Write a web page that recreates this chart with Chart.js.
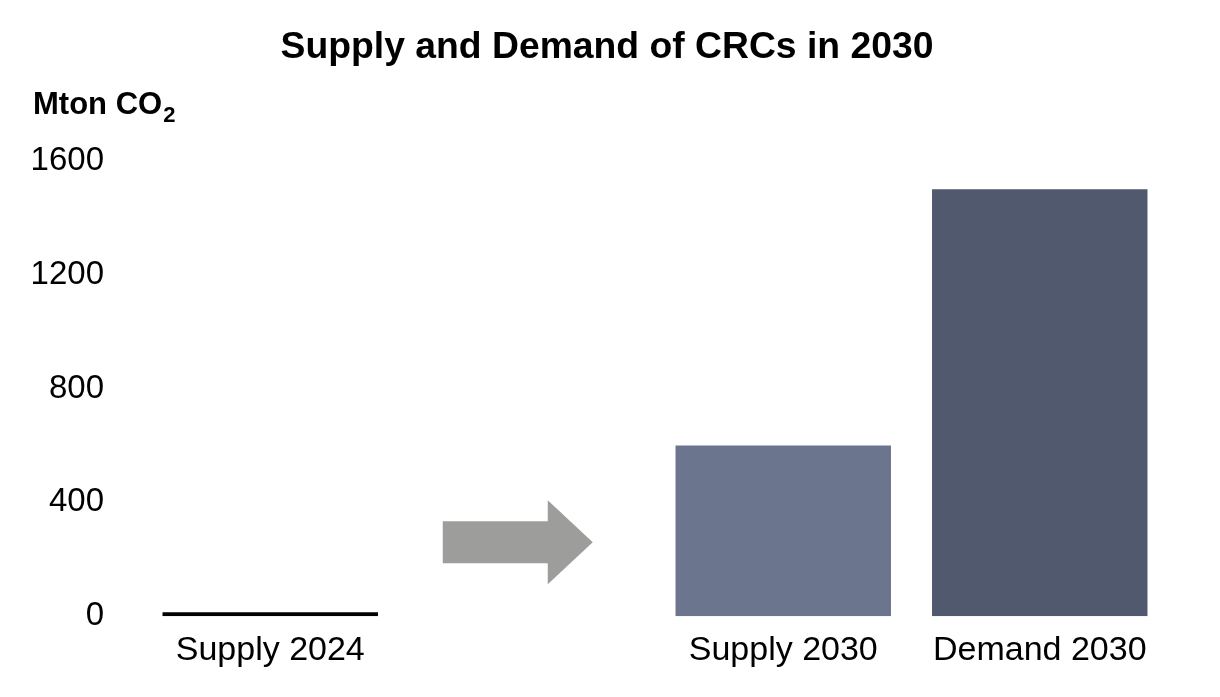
<!DOCTYPE html>
<html>
<head>
<meta charset="utf-8">
<script src="https://cdn.jsdelivr.net/npm/chart.js@4"></script>
<style>
  html, body { margin: 0; padding: 0; background: #fff; }
  #wrap { width: 1220px; height: 697px; }
</style>
</head>
<body>
<div id="wrap"><canvas id="crc-canvas" width="1220" height="697"></canvas></div>
<script>
// Supply and demand of carbon removal credits
const categories = ['Supply 2024', '', 'Supply 2030', 'Demand 2030'];
const volumes = [14, null, 600, 1500];
const barColors = ['#000000', 'transparent', '#6b768e', '#51596f'];
const yTicks = [0, 400, 800, 1200, 1600];

// arrow sits in the empty category, centred on this value
const arrowCategory = 1;
const arrowValue = 260;

Chart.defaults.font.family = "'Liberation Sans', Arial, sans-serif";
Chart.defaults.color = '#000';

// unit label "Mton CO2" with a subscript 2
const unitLabel = {
  id: 'unitLabel',
  afterDraw(chart) {
    const ctx = chart.ctx;
    ctx.save();
    ctx.fillStyle = '#000';
    ctx.textBaseline = 'alphabetic';
    ctx.font = "bold 31px 'Liberation Sans', Arial, sans-serif";
    const base = 'Mton CO';
    ctx.fillText(base, 33, 114);
    const w = ctx.measureText(base).width;
    ctx.font = "bold 22px 'Liberation Sans', Arial, sans-serif";
    ctx.fillText('2', 33 + w + 1, 122);
    ctx.restore();
  }
};

// grey block arrow between 2024 and 2030
const arrow = {
  id: 'arrow',
  afterDatasetsDraw(chart) {
    const x = chart.scales.x, y = chart.scales.y;
    const cx = x.getPixelForValue(arrowCategory);
    const cy = y.getPixelForValue(arrowValue);
    const left = cx - 84, neck = cx + 21, tip = cx + 66;
    const ctx = chart.ctx;
    ctx.save();
    ctx.fillStyle = '#9d9d9c';
    ctx.beginPath();
    ctx.moveTo(left, cy - 21);
    ctx.lineTo(neck, cy - 21);
    ctx.lineTo(neck, cy - 42);
    ctx.lineTo(tip, cy);
    ctx.lineTo(neck, cy + 42);
    ctx.lineTo(neck, cy + 21);
    ctx.lineTo(left, cy + 21);
    ctx.closePath();
    ctx.fill();
    ctx.restore();
  }
};

new Chart(document.getElementById('crc-canvas'), {
  type: 'bar',
  data: {
    labels: categories,
    datasets: [{
      data: volumes,
      backgroundColor: barColors,
      borderWidth: 0,
      barPercentage: 0.84,
      categoryPercentage: 1,
    }],
  },
  options: {
    responsive: false,
    animation: false,
    layout: { padding: { left: 31, right: 37, bottom: 12, top: 0 } },
    scales: {
      x: {
        grid: { display: false, drawTicks: false },
        border: { display: false },
        ticks: { font: { size: 34 }, padding: 14, color: '#000' },
      },
      y: {
        min: 0,
        max: 1600,
        afterBuildTicks: (axis) => { axis.ticks = yTicks.map(v => ({ value: v })); },
        afterFit: (axis) => { axis.width = 111; },
        grid: { display: false, drawTicks: false },
        border: { display: false },
        ticks: { font: { size: 33 }, padding: 38, color: '#000', callback: (v) => String(v) },
      },
      // empty right axis, only keeps a margin so the title sits where it should
      yRight: {
        position: 'right',
        min: 0,
        max: 1600,
        afterFit: (axis) => { axis.width = 15; },
        grid: { display: false, drawTicks: false },
        border: { display: false },
        ticks: { display: false },
      },
    },
    plugins: {
      legend: { display: false },
      tooltip: { enabled: false },
      title: {
        display: true,
        text: 'Supply and Demand of CRCs in 2030',
        font: { size: 37.3, weight: 'bold' },
        color: '#000',
        padding: { top: 25, bottom: 91 },
      },
    },
  },
  plugins: [unitLabel, arrow],
});
</script>
</body>
</html>
